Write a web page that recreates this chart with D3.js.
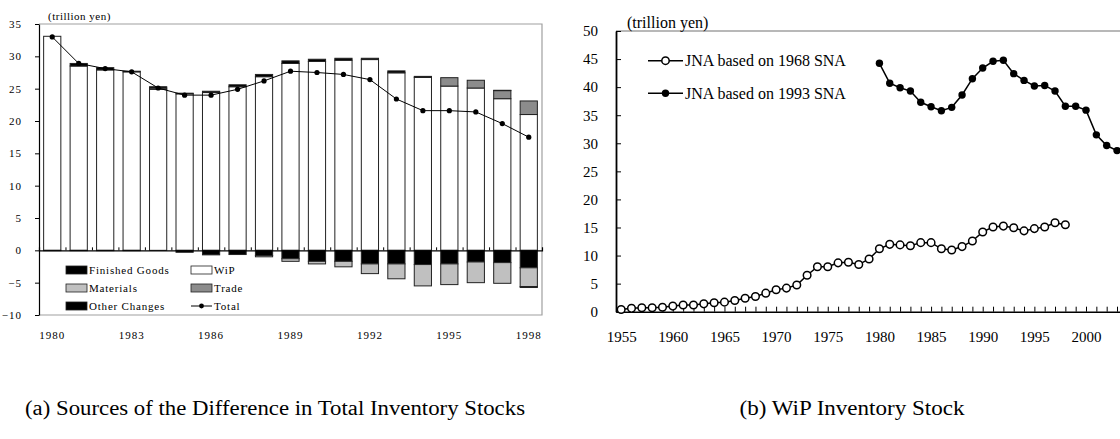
<!DOCTYPE html>
<html><head><meta charset="utf-8">
<script src="https://cdn.jsdelivr.net/npm/d3@7"></script>
<style>
html,body{margin:0;padding:0;background:#fff;}
svg{display:block;}
text{font-family:"Liberation Serif","Times New Roman",serif;fill:#000;}
</style></head>
<body>
<svg id="chart" width="1120" height="439"></svg>
<script>
// ---------- Panel (a) data ----------
const yearsA = [1980,1981,1982,1983,1984,1985,1986,1987,1988,1989,1990,1991,1992,1993,1994,1995,1996,1997,1998];
const wip       = [33.1,28.5,27.9,27.6,24.9,24.2,24.4,25.3,26.85,28.9,29.2,29.4,29.5,27.45,26.75,25.4,25.1,23.45,21.0];
const finished  = [-0.05,-0.05,-0.05,-0.05,0,-0.3,-0.7,-0.65,-0.8,-1.3,-1.7,-1.7,-2.1,-2.1,-2.2,-2.1,-1.8,-1.9,-2.7];
const materials = [0,0,0,0,0.2,0,0,0,-0.2,-0.4,-0.4,-0.85,-1.5,-2.3,-3.3,-3.2,-3.2,-3.2,-2.9];
const trade     = [0,0,0,0,0,0,0,0,0,0,0,0,0,0,0,1.3,1.2,1.25,2.1];
const otherCh   = [0,0.4,0.35,0.1,0.2,0.1,0.2,0.3,0.35,0.4,0.35,0.3,0.2,0.3,0.15,0,0,0.05,-0.15];
const total     = [33.0,28.9,28.1,27.6,25.1,24.0,24.0,24.9,26.2,27.7,27.5,27.2,26.4,23.4,21.6,21.6,21.4,19.6,17.5];
const ticksA_y  = [-10,-5,0,5,10,15,20,25,30,35];
const labelsA_x = [1980,1983,1986,1989,1992,1995,1998];

// ---------- Panel (b) data ----------
const years68 = [1955,1956,1957,1958,1959,1960,1961,1962,1963,1964,1965,1966,1967,1968,1969,1970,1971,1972,1973,1974,1975,1976,1977,1978,1979,1980,1981,1982,1983,1984,1985,1986,1987,1988,1989,1990,1991,1992,1993,1994,1995,1996,1997,1998];
const jna68 = [0.4,0.6,0.7,0.7,0.8,1.0,1.2,1.2,1.4,1.6,1.7,2.0,2.4,2.7,3.3,3.9,4.2,4.75,6.5,8.0,8.0,8.7,8.8,8.4,9.4,11.2,12.0,11.9,11.75,12.3,12.3,11.2,11.0,11.6,12.6,14.2,15.1,15.25,14.95,14.4,14.8,15.1,15.85,15.5];
const years93 = [1980,1981,1982,1983,1984,1985,1986,1987,1988,1989,1990,1991,1992,1993,1994,1995,1996,1997,1998,1999,2000,2001,2002,2003];
const jna93 = [44.25,40.7,39.9,39.3,37.3,36.5,35.8,36.4,38.6,41.5,43.4,44.6,44.8,42.4,41.2,40.2,40.3,39.3,36.6,36.6,35.9,31.5,29.6,28.7];
const ticksB_y = [0,5,10,15,20,25,30,35,40,45,50];
const labelsB_x = [1955,1960,1965,1970,1975,1980,1985,1990,1995,2000];
const allYearsB = [1955,1956,1957,1958,1959,1960,1961,1962,1963,1964,1965,1966,1967,1968,1969,1970,1971,1972,1973,1974,1975,1976,1977,1978,1979,1980,1981,1982,1983,1984,1985,1986,1987,1988,1989,1990,1991,1992,1993,1994,1995,1996,1997,1998,1999,2000,2001,2002,2003,2004];

const svg = d3.select("#chart");
svg.append("rect").attr("width",1120).attr("height",439).attr("fill","#fff");

// ================= Panel (a) =================
(function(){
  const L = 39, R = 542, T = 24, B = 315;
  const g = svg.append("g");
  const x = d3.scaleBand().domain(yearsA).range([L,R]).paddingInner(0.35).paddingOuter(0.175);
  const y = d3.scaleLinear().domain([-10,35]).range([B,T]);

  const keys = ["WiP","Finished","Materials","Trade","Other"];
  const rows = yearsA.map((yr,i)=>({year:yr,WiP:wip[i],Finished:finished[i],Materials:materials[i],Trade:trade[i],Other:otherCh[i]}));
  const stack = d3.stack().keys(keys).offset(d3.stackOffsetDiverging)(rows);
  const fill = {WiP:"#ffffff",Finished:"#000000",Materials:"#c0c0c0",Trade:"#8c8c8c",Other:"#000000"};

  // frame
  g.append("path").attr("d",`M${L},${T}H${R}V${B}H${L}`).attr("fill","none").attr("stroke","#a0a0a0").attr("stroke-width",1.2);

  stack.forEach(layer=>{
    g.append("g").selectAll("rect").data(layer).join("rect")
      .attr("x",d=>x(d.data.year))
      .attr("width",x.bandwidth())
      .attr("y",d=>y(Math.max(d[0],d[1])))
      .attr("height",d=>Math.abs(y(d[0])-y(d[1])))
      .attr("fill",fill[layer.key])
      .attr("stroke",d=>Math.abs(d[1]-d[0])>0.001?"#222":"none")
      .attr("stroke-width",1);
  });

  // zero line with ticks at band boundaries
  const zeroAxis = d3.axisTop(d3.scaleLinear().domain([0,yearsA.length]).range([L,R]))
    .tickValues(d3.range(1,yearsA.length)).tickSize(3).tickFormat("");
  g.append("g").attr("transform",`translate(0,${y(0)})`).call(zeroAxis)
    .call(s=>s.select(".domain").attr("stroke","#000").attr("stroke-width",1.2))
    .call(s=>s.selectAll(".tick line").attr("stroke","#000"));

  // y axis
  const yAxis = d3.axisLeft(y).tickValues(ticksA_y).tickSize(4).tickPadding(13).tickSizeOuter(0);
  g.append("g").attr("transform",`translate(${L},0)`).call(yAxis)
    .call(s=>s.select(".domain").attr("stroke","#000").attr("stroke-width",1.2))
    .call(s=>s.selectAll("text").attr("font-family","Liberation Serif").attr("font-size",11).attr("letter-spacing","1px"));

  // x labels
  const xAxis = d3.axisBottom(x).tickValues(labelsA_x).tickSize(0).tickPadding(16);
  g.append("g").attr("transform",`translate(0,${B})`).call(xAxis)
    .call(s=>s.select(".domain").remove())
    .call(s=>s.selectAll("text").attr("font-family","Liberation Serif").attr("font-size",11).attr("letter-spacing","1px"));

  // total line
  g.append("path").datum(total).attr("fill","none").attr("stroke","#000").attr("stroke-width",1)
    .attr("d",d3.line().x((d,i)=>x(yearsA[i])+x.bandwidth()/2).y(d=>y(d)));
  g.append("g").selectAll("circle").data(total).join("circle")
    .attr("cx",(d,i)=>x(yearsA[i])+x.bandwidth()/2).attr("cy",d=>y(d)).attr("r",2.6).attr("fill","#000");

  // unit
  g.append("text").attr("x",48).attr("y",20).attr("font-size",11).attr("letter-spacing","0.5px").text("(trillion yen)");

  // legend
  const leg = [
    {label:"Finished Goods",fill:"#000",x:66,y:270},
    {label:"WiP",fill:"#fff",x:191,y:270},
    {label:"Materials",fill:"#c0c0c0",x:66,y:288},
    {label:"Trade",fill:"#8c8c8c",x:191,y:288},
    {label:"Other Changes",fill:"#000",x:66,y:306}
  ];
  leg.forEach(l=>{
    g.append("rect").attr("x",l.x).attr("y",l.y-4).attr("width",21).attr("height",8).attr("fill",l.fill).attr("stroke","#222").attr("stroke-width",0.8);
    g.append("text").attr("x",l.x+23).attr("y",l.y+4).attr("font-size",11).attr("letter-spacing","0.8px").text(l.label);
  });
  g.append("line").attr("x1",191).attr("x2",212).attr("y1",306).attr("y2",306).attr("stroke","#000");
  g.append("circle").attr("cx",201.5).attr("cy",306).attr("r",2.4).attr("fill","#000");
  g.append("text").attr("x",214).attr("y",310).attr("font-size",11).attr("letter-spacing","0.8px").text("Total");
})();

// ================= Panel (b) =================
(function(){
  const L = 616, T = 31, B = 311.7;
  const g = svg.append("g");
  const x = d3.scaleLinear().domain([1954.5,2004.5]).range([L, L+50*10.33]);
  const y = d3.scaleLinear().domain([0,50]).range([B,T]);

  g.append("line").attr("x1",L).attr("x2",1120).attr("y1",T).attr("y2",T).attr("stroke","#a0a0a0").attr("stroke-width",1.5);

  // x axis: ticks each year, labels every 5
  const xAxis = d3.axisBottom(x).tickValues(allYearsB).tickSize(-5).tickSizeOuter(0)
    .tickPadding(20).tickFormat(d=>labelsB_x.includes(d)?String(d):"");
  g.append("g").attr("transform",`translate(0,${B})`).call(xAxis)
    .call(s=>s.select(".domain").attr("stroke","#000").attr("stroke-width",1.5))
    .call(s=>s.selectAll(".tick line").attr("stroke","#000"))
    .call(s=>s.selectAll("text").attr("font-family","Liberation Serif").attr("font-size",15));

  const yAxis = d3.axisLeft(y).tickValues(ticksB_y).tickSize(-5).tickSizeOuter(0).tickPadding(18);
  g.append("g").attr("transform",`translate(${L},0)`).call(yAxis)
    .call(s=>s.select(".domain").attr("stroke","#000").attr("stroke-width",1.8))
    .call(s=>s.selectAll(".tick line").attr("stroke","#000"))
    .call(s=>s.selectAll("text").attr("font-family","Liberation Serif").attr("font-size",15));

  const line = d3.line().x(d=>x(d[0])).y(d=>y(d[1]));
  const s68 = years68.map((yr,i)=>[yr,jna68[i]]);
  const s93 = years93.map((yr,i)=>[yr,jna93[i]]);

  g.append("path").datum(s68).attr("fill","none").attr("stroke","#000").attr("stroke-width",1.5).attr("d",line);
  g.append("g").selectAll("circle").data(s68).join("circle")
    .attr("cx",d=>x(d[0])).attr("cy",d=>y(d[1])).attr("r",3.8).attr("fill","#fff").attr("stroke","#000").attr("stroke-width",1.5);

  g.append("path").datum(s93).attr("fill","none").attr("stroke","#000").attr("stroke-width",1.5).attr("d",line);
  g.append("g").selectAll("circle").data(s93).join("circle")
    .attr("cx",d=>x(d[0])).attr("cy",d=>y(d[1])).attr("r",3.7).attr("fill","#000");

  g.append("text").attr("x",627).attr("y",28).attr("font-size",16).text("(trillion yen)");

  // legend
  const legs = [{label:"JNA based on 1968 SNA",open:true,y:60.7},{label:"JNA based on 1993 SNA",open:false,y:93.3}];
  legs.forEach(l=>{
    g.append("line").attr("x1",648).attr("x2",683).attr("y1",l.y).attr("y2",l.y).attr("stroke","#000").attr("stroke-width",1.5);
    g.append("circle").attr("cx",665.5).attr("cy",l.y).attr("r",3.7)
      .attr("fill",l.open?"#fff":"#000").attr("stroke","#000").attr("stroke-width",l.open?1.5:0);
    g.append("text").attr("x",685).attr("y",l.y+5.5).attr("font-size",16).text(l.label);
  });
})();

// ================= Captions =================
svg.append("text").attr("x",275).attr("y",415).attr("text-anchor","middle").attr("font-size",20)
  .attr("textLength",500).attr("lengthAdjust","spacingAndGlyphs")
  .text("(a) Sources of the Difference in Total Inventory Stocks");
svg.append("text").attr("x",852).attr("y",415).attr("text-anchor","middle").attr("font-size",20)
  .attr("textLength",225).attr("lengthAdjust","spacingAndGlyphs")
  .text("(b) WiP Inventory Stock");
</script>
</body></html>
